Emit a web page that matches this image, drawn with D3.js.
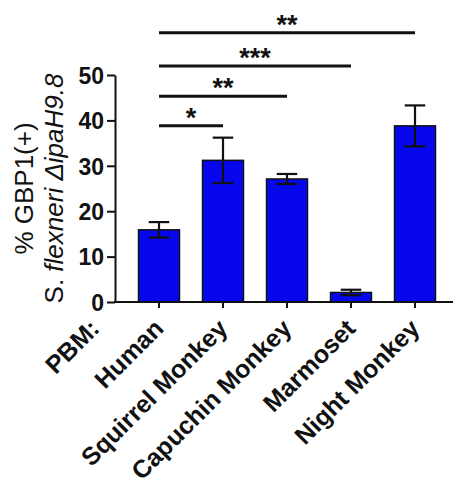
<!DOCTYPE html>
<html>
<head>
<meta charset="utf-8">
<script src="https://cdn.jsdelivr.net/npm/d3@7"></script>
<style>
  body { margin: 0; background: #fff; }
  text { font-family: Arial, "Liberation Sans", sans-serif; }
</style>
</head>
<body>
<svg id="chart" width="453" height="485"></svg>
<script>
// data
const groups = ["Human", "Squirrel Monkey", "Capuchin Monkey", "Marmoset", "Night Monkey"];
const means = [15.9, 31.2, 27.1, 2.1, 38.8];
const sems = [1.7, 5.0, 1.1, 0.6, 4.5];
const yTicks = [0, 10, 20, 30, 40, 50];
// significance brackets: from Human to target, height in data units
const sigTargets = ["Squirrel Monkey", "Capuchin Monkey", "Marmoset", "Night Monkey"];
const sigHeights = [38.8, 45.3, 52.0, 59.3];
const sigLabels = ["*", "**", "***", "**"];

const svg = d3.select("#chart");

const x = d3.scaleBand()
  .domain(groups)
  .range([127, 447])
  .paddingInner(0.36)
  .paddingOuter(0.18);

const y = d3.scaleLinear()
  .domain([0, 50])
  .range([302, 75]);

const blue = "#0707ee";

// bars
svg.append("g")
  .selectAll("rect")
  .data(groups)
  .enter()
  .append("rect")
  .attr("x", d => x(d))
  .attr("y", (d, i) => y(means[i]))
  .attr("width", x.bandwidth())
  .attr("height", (d, i) => y(0) - y(means[i]))
  .attr("fill", blue)
  .attr("stroke", "#111")
  .attr("stroke-width", 1.5);

// error bars
const err = svg.append("g")
  .attr("stroke", "#111")
  .attr("stroke-width", 2.2);
groups.forEach(function(g, i){
  const cx = x(g) + x.bandwidth() / 2;
  const cap = x.bandwidth() / 4;
  err.append("line")
    .attr("x1", cx).attr("x2", cx)
    .attr("y1", y(means[i] + sems[i])).attr("y2", y(means[i] - sems[i]));
  err.append("line")
    .attr("x1", cx - cap).attr("x2", cx + cap)
    .attr("y1", y(means[i] + sems[i])).attr("y2", y(means[i] + sems[i]));
  err.append("line")
    .attr("x1", cx - cap).attr("x2", cx + cap)
    .attr("y1", y(means[i] - sems[i])).attr("y2", y(means[i] - sems[i]));
});

// y axis
const yAxis = svg.append("g")
  .attr("transform", "translate(115,0)")
  .call(d3.axisLeft(y).tickValues(yTicks).tickSize(8).tickSizeOuter(0).tickPadding(3));
yAxis.select(".domain").attr("stroke", "#111").attr("stroke-width", 2);
yAxis.selectAll(".tick line").attr("stroke", "#111").attr("stroke-width", 2);
yAxis.selectAll(".tick text")
  .attr("fill", "#111")
  .style("font-size", "23px")
  .style("font-weight", "bold")
  .attr("dy", "0.36em");

// x axis
svg.append("line")
  .attr("x1", 114).attr("x2", 453)
  .attr("y1", y(0)).attr("y2", y(0))
  .attr("stroke", "#111").attr("stroke-width", 2);
const xAxis = svg.append("g")
  .attr("transform", "translate(0," + y(0) + ")")
  .call(d3.axisBottom(x).tickSize(6).tickSizeOuter(0).tickFormat(""));
xAxis.select(".domain").remove();
xAxis.selectAll(".tick line").attr("stroke", "#111").attr("stroke-width", 2);

// category labels
const labels = ["PBM:"].concat(groups);
svg.append("g")
  .selectAll("text")
  .data(labels)
  .enter()
  .append("text")
  .attr("transform", function(d, i){
    const cx = i === 0 ? x(groups[0]) + x.bandwidth() / 2 - x.step() : x(d) + x.bandwidth() / 2;
    return "translate(" + (cx + 6) + "," + (y(0) + 28) + ") rotate(-45)";
  })
  .attr("text-anchor", "end")
  .style("font-size", "25px")
  .style("font-weight", "bold")
  .attr("fill", "#111")
  .text(d => d);

// y title
const title = svg.append("text")
  .attr("transform", "translate(33," + y(25) + ") rotate(-90)")
  .attr("text-anchor", "middle")
  .style("font-size", "26px")
  .attr("fill", "#111");
title.append("tspan").attr("x", 0).attr("y", 0).text("% GBP1(+)");
const line2 = title.append("tspan").attr("x", 0).attr("y", 30);
line2.text("S. ");
title.append("tspan").style("font-style", "italic").text("flexneri ΔipaH9.8");

// significance brackets
const x0 = x(groups[0]) + x.bandwidth() / 2;
const sig = svg.append("g");
sigTargets.forEach(function(t, i){
  const x1 = x(t) + x.bandwidth() / 2;
  const yy = y(sigHeights[i]);
  sig.append("line")
    .attr("x1", x0).attr("x2", x1)
    .attr("y1", yy).attr("y2", yy)
    .attr("stroke", "#111").attr("stroke-width", 3);
  sig.append("text")
    .attr("x", (x0 + x1) / 2)
    .attr("y", yy + 1)
    .attr("text-anchor", "middle")
    .style("font-size", "27px")
    .style("font-weight", "bold")
    .attr("fill", "#111")
    .text(sigLabels[i]);
});
</script>
</body>
</html>
